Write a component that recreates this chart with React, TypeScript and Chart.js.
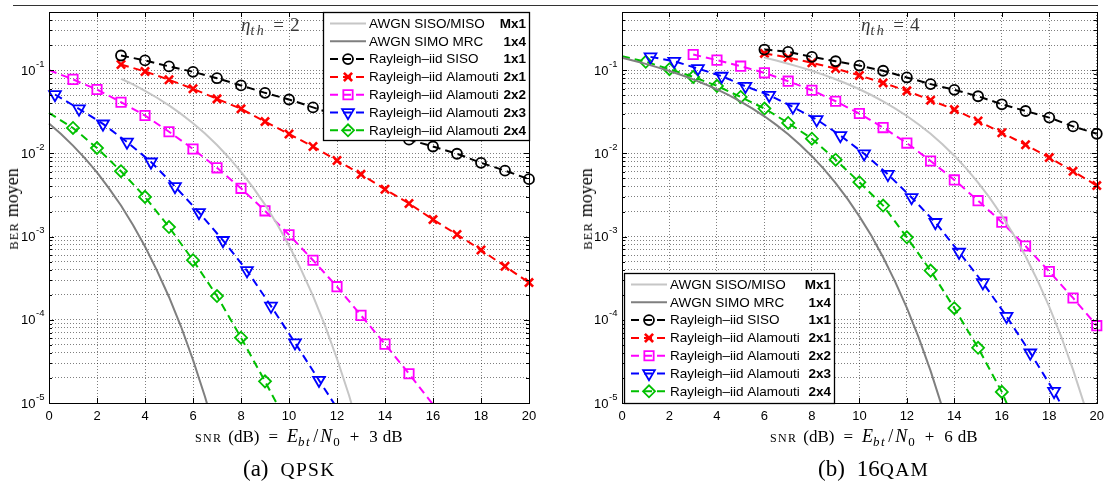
import React, { useEffect, useRef } from 'react';
import { Chart, registerables } from 'chart.js';
import { drawPoint } from 'chart.js/helpers';

Chart.register(...registerables);

const SANS = '"Liberation Sans", Arial, Helvetica, sans-serif';
const SERIF = '"Liberation Serif", "Times New Roman", serif';

// ---------- axes ----------
const X_TICKS = [0, 2, 4, 6, 8, 10, 12, 14, 16, 18, 20];
const X_TICK_LABELS = ['0', '2', '4', '6', '8', '10', '12', '14', '16', '18', '20'];
const Y_DECADES = [-5, -4, -3, -2, -1];
const Y_MIN = 1e-5;
const Y_MAX = 0.5;

// ---------- legend ----------
const LEGEND_NAMES = [
  'AWGN SISO/MISO',
  'AWGN SIMO MRC',
  'Rayleigh\u2013iid SISO',
  'Rayleigh\u2013iid Alamouti',
  'Rayleigh\u2013iid Alamouti',
  'Rayleigh\u2013iid Alamouti',
  'Rayleigh\u2013iid Alamouti',
];
const LEGEND_TAGS = ['Mx1', '1x4', '1x1', '2x1', '2x2', '2x3', '2x4'];

// ---------- (a) QPSK, eta_th = 2 ----------
const QPSK_AWGN_MX1_X = [3, 3.5, 4, 4.5, 5, 5.5, 6, 6.5, 7, 7.5, 8, 8.5, 9, 9.5, 10, 10.5, 11, 11.5, 12, 12.5, 13];
const QPSK_AWGN_MX1 = [0.0789, 0.0673, 0.0565, 0.0466, 0.0377, 0.0298, 0.023, 0.0173, 0.0126, 0.00887, 0.006, 0.0039, 0.00242, 0.00142, 0.00078, 0.000404, 0.000194, 8.5e-5, 3.4e-5, 1.24e-5, 4.0e-6];
const QPSK_AWGN_1X4_X = [0, 0.5, 1, 1.5, 2, 2.5, 3, 3.5, 4, 4.5, 5, 5.5, 6, 6.5, 7];
const QPSK_AWGN_1X4 = [0.0228, 0.0171, 0.0124, 0.0087, 0.0059, 0.0038, 0.00236, 0.00138, 0.00076, 0.00039, 0.000188, 8.3e-5, 3.3e-5, 1.19e-5, 3.8e-6];
const QPSK_SISO_X = [3, 4, 5, 6, 7, 8, 9, 10, 11, 12, 13, 14, 15, 16, 17, 18, 19, 20];
const QPSK_SISO = [0.15, 0.131, 0.111, 0.0955, 0.08, 0.0655, 0.0534, 0.0444, 0.0357, 0.0287, 0.0229, 0.0183, 0.0146, 0.0121, 0.0099, 0.0077, 0.0062, 0.0049];
const QPSK_ALA21_X = [3, 4, 5, 6, 7, 8, 9, 10, 11, 12, 13, 14, 15, 16, 17, 18, 19, 20];
const QPSK_ALA21 = [0.117, 0.0965, 0.0766, 0.0597, 0.0452, 0.0343, 0.0241, 0.0171, 0.0121, 0.0082, 0.0056, 0.0037, 0.0025, 0.0016, 0.00106, 0.00069, 0.00044, 0.00028];
const QPSK_ALA22_X = [0, 1, 2, 3, 4, 5, 6, 7, 8, 9, 10, 11, 12, 13, 14, 15, 16];
const QPSK_ALA22 = [0.1, 0.0775, 0.0585, 0.0412, 0.0285, 0.0182, 0.0113, 0.0067, 0.0038, 0.00204, 0.00105, 0.00052, 0.00025, 0.000113, 5.1e-5, 2.25e-5, 9.6e-6];
const QPSK_ALA23_X = [0.25, 1.25, 2.25, 3.25, 4.25, 5.25, 6.25, 7.25, 8.25, 9.25, 10.25, 11.25, 12.25];
const QPSK_ALA23 = [0.051, 0.0343, 0.0226, 0.0137, 0.0079, 0.004, 0.00195, 0.0009, 0.00039, 0.000146, 5.3e-5, 1.88e-5, 6.7e-6];
const QPSK_ALA24_X = [0, 1, 2, 3, 4, 5, 6, 7, 8, 9, 10];
const QPSK_ALA24 = [0.0306, 0.0202, 0.0116, 0.0061, 0.003, 0.0013, 0.00052, 0.000193, 6.1e-5, 1.82e-5, 5.2e-6];

// ---------- (b) 16QAM, eta_th = 4 ----------
const QAM_AWGN_MX1_X = [6, 6.5, 7, 7.5, 8, 8.5, 9, 9.5, 10, 10.5, 11, 11.5, 12, 12.5, 13, 13.5, 14, 14.5, 15, 15.5, 16, 16.5, 17, 17.5, 18, 18.5, 19, 19.5, 20];
const QAM_AWGN_MX1 = [0.1415, 0.1304, 0.1195, 0.1088, 0.0982, 0.0879, 0.0778, 0.0682, 0.059, 0.0503, 0.0422, 0.0348, 0.0281, 0.0222, 0.0172, 0.0129, 0.00937, 0.0066, 0.00446, 0.0029, 0.00179, 0.00105, 0.00058, 0.000299, 0.000143, 6.3e-5, 2.52e-5, 9.1e-6, 3.0e-6];
const QAM_AWGN_1X4_X = [0, 0.5, 1, 1.5, 2, 2.5, 3, 3.5, 4, 4.5, 5, 5.5, 6, 6.5, 7, 7.5, 8, 8.5, 9, 9.5, 10, 10.5, 11, 11.5, 12, 12.5, 13, 13.5, 14];
const QAM_AWGN_1X4 = [0.141, 0.13, 0.119, 0.108, 0.0977, 0.0874, 0.0775, 0.0678, 0.0586, 0.05, 0.0419, 0.0345, 0.0279, 0.022, 0.017, 0.0127, 0.00925, 0.0065, 0.00439, 0.00284, 0.00175, 0.00103, 0.000565, 0.00029, 0.000139, 6.1e-5, 2.43e-5, 8.7e-6, 2.8e-6];
const QAM_SISO_X = [6, 7, 8, 9, 10, 11, 12, 13, 14, 15, 16, 17, 18, 19, 20];
const QAM_SISO = [0.177, 0.166, 0.1445, 0.128, 0.1135, 0.0984, 0.0817, 0.068, 0.058, 0.0486, 0.0389, 0.0323, 0.0269, 0.0211, 0.0172];
const QAM_ALA21_X = [6, 7, 8, 9, 10, 11, 12, 13, 14, 15, 16, 17, 18, 19, 20];
const QAM_ALA21 = [0.159, 0.142, 0.1225, 0.1047, 0.0865, 0.0703, 0.0564, 0.0436, 0.0336, 0.0245, 0.0177, 0.0127, 0.0089, 0.0061, 0.0041];
const QAM_ALA22_X = [3, 4, 5, 6, 7, 8, 9, 10, 11, 12, 13, 14, 15, 16, 17, 18, 19, 20];
const QAM_ALA22 = [0.154, 0.132, 0.1117, 0.0929, 0.0737, 0.0574, 0.0423, 0.0301, 0.0204, 0.0133, 0.0081, 0.0048, 0.0027, 0.00149, 0.00077, 0.00038, 0.000183, 8.5e-5];
const QAM_ALA23_X = [1.2, 2.2, 3.2, 4.2, 5.2, 6.2, 7.2, 8.2, 9.2, 10.2, 11.2, 12.2, 13.2, 14.2, 15.2, 16.2, 17.2, 18.2, 19.2];
const QAM_ALA23 = [0.1445, 0.128, 0.1047, 0.0847, 0.0641, 0.05, 0.0361, 0.0255, 0.0164, 0.0099, 0.0056, 0.00295, 0.00148, 0.00065, 0.00028, 0.00011, 4.0e-5, 1.38e-5, 4.0e-6];
const QAM_ALA24_X = [0, 1, 2, 3, 4, 5, 6, 7, 8, 9, 10, 11, 12, 13, 14, 15, 16, 17];
const QAM_ALA24 = [0.147, 0.126, 0.1028, 0.083, 0.0647, 0.0476, 0.0346, 0.0232, 0.015, 0.0084, 0.0045, 0.00236, 0.00098, 0.00039, 0.000138, 4.6e-5, 1.36e-5, 2.9e-6];

// ---------- styles (one per legend entry) ----------
type Style = { color: string; width: number; dash: number[]; pointStyle?: string; radius?: number; bw?: number; rotation?: number };
const STYLES: Style[] = [
  { color: '#c6c6c6', width: 2, dash: [] },
  { color: '#7f7f7f', width: 2, dash: [] },
  { color: '#000000', width: 2, dash: [8, 5], pointStyle: 'circle', radius: 5, bw: 1.8 },
  { color: '#ff0000', width: 2, dash: [8, 5], pointStyle: 'crossRot', radius: 5.8, bw: 2.6 },
  { color: '#ff00ff', width: 2, dash: [8, 5], pointStyle: 'rect', radius: 6.6, bw: 1.8 },
  { color: '#0000ff', width: 2, dash: [8, 5], pointStyle: 'triangle', radius: 6.8, bw: 1.8, rotation: 180 },
  { color: '#00c000', width: 2, dash: [8, 5], pointStyle: 'rectRot', radius: 6, bw: 1.8 },
];

const Y_GRID: number[] = [];
for (const e of Y_DECADES) {
  for (let m = 1; m <= 9; m++) {
    const v = m * Math.pow(10, e);
    if (v <= Y_MAX * 1.0000001) Y_GRID.push(v);
  }
}

const isDecade = (v: number) => Math.abs(Math.log10(v) - Math.round(Math.log10(v))) < 1e-6;

const framePlugin = {
  id: 'frame',
  afterDatasetsDraw(chart: any, _args: any, opts: any) {
    const { ctx, chartArea: a, scales } = chart;
    const xs = scales.x;
    const ys = scales.y;
    ctx.save();
    ctx.setLineDash([]);
    // inward tick marks
    ctx.strokeStyle = '#000';
    ctx.lineWidth = 1;
    ctx.beginPath();
    xs.ticks.forEach((t: any) => {
      const px = Math.round(xs.getPixelForValue(t.value)) + 0.5;
      ctx.moveTo(px, a.bottom);
      ctx.lineTo(px, a.bottom - 5);
      ctx.moveTo(px, a.top);
      ctx.lineTo(px, a.top + 5);
    });
    ys.ticks.forEach((t: any) => {
      const py = Math.round(ys.getPixelForValue(t.value)) + 0.5;
      const L = isDecade(t.value) ? 5 : 3;
      ctx.moveTo(a.left, py);
      ctx.lineTo(a.left + L, py);
      ctx.moveTo(a.right, py);
      ctx.lineTo(a.right - L, py);
    });
    ctx.stroke();

    // legend
    const lg = opts.legend;
    const w = lg.w;
    const h = lg.h;
    const bx = lg.pos === 'ne' ? Math.round(a.right) - w : Math.round(a.left) + 2;
    const by = lg.pos === 'ne' ? Math.round(a.top) : Math.round(a.bottom) - h;
    ctx.fillStyle = '#fff';
    ctx.fillRect(bx, by, w, h);
    ctx.strokeStyle = '#000';
    ctx.lineWidth = 1.3;
    ctx.strokeRect(bx + 0.5, by + 0.5, w, h);
    chart.data.datasets.forEach((ds: any, i: number) => {
      const st = STYLES[i];
      const cy = by + 11.5 + i * 17.8;
      ctx.save();
      ctx.strokeStyle = st.color;
      ctx.lineWidth = st.width;
      ctx.setLineDash(st.dash);
      ctx.beginPath();
      ctx.moveTo(bx + 7, cy);
      ctx.lineTo(bx + 43, cy);
      ctx.stroke();
      ctx.restore();
      if (st.pointStyle) {
        ctx.save();
        ctx.setLineDash([]);
        ctx.strokeStyle = st.color;
        ctx.fillStyle = 'rgba(0,0,0,0)';
        ctx.lineWidth = st.bw;
        drawPoint(ctx, { pointStyle: st.pointStyle as any, radius: st.radius!, rotation: st.rotation || 0, borderWidth: st.bw! } as any, bx + 25, cy);
        ctx.restore();
      }
      ctx.fillStyle = '#000';
      ctx.textBaseline = 'middle';
      ctx.textAlign = 'left';
      ctx.font = `13.5px ${SANS}`;
      ctx.fillText(ds.label, bx + 46, cy + 0.5);
      ctx.textAlign = 'right';
      ctx.font = `bold 13.5px ${SANS}`;
      ctx.fillText(LEGEND_TAGS[i], bx + w - 3, cy + 0.5);
    });

    // frame
    ctx.strokeStyle = '#000';
    ctx.lineWidth = 1;
    ctx.strokeRect(Math.round(a.left) + 0.5, Math.round(a.top) + 0.5, Math.round(a.right - a.left), Math.round(a.bottom - a.top));

    // y tick labels 10^e
    ctx.fillStyle = '#000';
    Y_DECADES.forEach((e) => {
      const py = ys.getPixelForValue(Math.pow(10, e));
      ctx.textBaseline = 'middle';
      ctx.textAlign = 'right';
      ctx.font = `13px ${SANS}`;
      ctx.fillText('10', a.left - 13.5, py + 1);
      ctx.textAlign = 'left';
      ctx.font = `9.5px ${SANS}`;
      ctx.fillText('-' + String(-e), a.left - 13, py - 6);
    });
    ctx.restore();
  },
};

type SeriesData = { xs: number[]; ys: number[] };

function Panel(props: { left: number; width: number; yAxisWidth: number; padRight: number; series: SeriesData[]; legend: any }) {
  const ref = useRef<HTMLCanvasElement>(null);
  useEffect(() => {
    const gridOpts = { color: 'rgba(0,0,0,0.5)', lineWidth: 1, drawTicks: false };
    const chart = new Chart(ref.current as HTMLCanvasElement, {
      type: 'line',
      data: {
        datasets: props.series.map((s, i) => {
          const st = STYLES[i];
          return {
            label: LEGEND_NAMES[i],
            data: s.xs.map((x, k) => ({ x, y: s.ys[k] })),
            borderColor: st.color,
            borderWidth: st.width,
            borderDash: st.dash,
            tension: 0,
            fill: false,
            pointStyle: (st.pointStyle || 'circle') as any,
            pointRadius: (c: any) => {
              const r = c.raw;
              if (!st.pointStyle || !r || r.x <= 0 || r.y < Y_MIN) return 0;
              return st.radius;
            },
            pointHoverRadius: 0,
            pointBackgroundColor: 'rgba(0,0,0,0)',
            pointBorderColor: st.color,
            pointBorderWidth: st.bw || 0,
            pointRotation: st.rotation || 0,
            clip: { left: 14, right: 14, top: 14, bottom: 0 } as any,
          } as any;
        }),
      },
      options: {
        animation: false,
        responsive: false,
        maintainAspectRatio: false,
        events: [],
        layout: { padding: { left: 0, right: props.padRight, top: 12, bottom: 0 } },
        plugins: {
          legend: { display: false },
          tooltip: { enabled: false },
          frame: { legend: props.legend },
        } as any,
        scales: {
          x: {
            type: 'linear',
            min: 0,
            max: 20,
            afterBuildTicks: (s: any) => {
              s.ticks = X_TICKS.map((v) => ({ value: v }));
            },
            afterFit: (s: any) => {
              s.height = 81;
            },
            grid: gridOpts,
            border: { display: false, dash: [1, 2] },
            ticks: {
              color: '#000',
              font: { family: SANS, size: 13 },
              padding: 6,
              maxRotation: 0,
              autoSkip: false,
              callback: (v: any) => X_TICK_LABELS[X_TICKS.indexOf(Number(v))] ?? '',
            },
          },
          y: {
            type: 'logarithmic',
            min: Y_MIN,
            max: Y_MAX,
            afterBuildTicks: (s: any) => {
              s.ticks = Y_GRID.map((v) => ({ value: v }));
            },
            afterFit: (s: any) => {
              s.width = props.yAxisWidth;
            },
            grid: gridOpts,
            border: { display: false, dash: [1, 2] },
            ticks: { display: false },
          },
        } as any,
      },
      plugins: [framePlugin as any],
    });
    return () => chart.destroy();
  }, []);
  return (
    <canvas
      ref={ref}
      width={props.width}
      height={484}
      style={{ position: 'absolute', left: props.left, top: 0, width: props.width, height: 484 }}
    />
  );
}

const QPSK_SERIES: SeriesData[] = [
  { xs: QPSK_AWGN_MX1_X, ys: QPSK_AWGN_MX1 },
  { xs: QPSK_AWGN_1X4_X, ys: QPSK_AWGN_1X4 },
  { xs: QPSK_SISO_X, ys: QPSK_SISO },
  { xs: QPSK_ALA21_X, ys: QPSK_ALA21 },
  { xs: QPSK_ALA22_X, ys: QPSK_ALA22 },
  { xs: QPSK_ALA23_X, ys: QPSK_ALA23 },
  { xs: QPSK_ALA24_X, ys: QPSK_ALA24 },
];
const QAM_SERIES: SeriesData[] = [
  { xs: QAM_AWGN_MX1_X, ys: QAM_AWGN_MX1 },
  { xs: QAM_AWGN_1X4_X, ys: QAM_AWGN_1X4 },
  { xs: QAM_SISO_X, ys: QAM_SISO },
  { xs: QAM_ALA21_X, ys: QAM_ALA21 },
  { xs: QAM_ALA22_X, ys: QAM_ALA22 },
  { xs: QAM_ALA23_X, ys: QAM_ALA23 },
  { xs: QAM_ALA24_X, ys: QAM_ALA24 },
];

const abs = (extra: React.CSSProperties): React.CSSProperties => ({ position: 'absolute', whiteSpace: 'nowrap', ...extra });
const SC = (size: number, spacing: number): React.CSSProperties => ({ fontSize: size, letterSpacing: spacing });

function XTitle({ left, db }: { left: number; db: string }) {
  return (
    <div style={abs({ left, top: 427, font: `17px ${SERIF}`, color: '#000', lineHeight: '18px' })}>
      <span style={SC(12, 1.3)}>SNR</span>
      <span style={{ marginLeft: 6 }}>(dB)</span>
      <span style={{ margin: '0 9px' }}>=</span>
      <i style={{ fontSize: 18 }}>E</i>
      <sub style={{ fontSize: 13, fontStyle: 'italic', letterSpacing: 1.5, verticalAlign: -4 }}>bt</sub>
      <span style={{ margin: '0 2px', fontSize: 18 }}>/</span>
      <i style={{ fontSize: 18, letterSpacing: 1 }}>N</i>
      <sub style={{ fontSize: 13, verticalAlign: -4 }}>0</sub>
      <span style={{ margin: '0 10px' }}>+</span>
      {db}
      <span style={{ marginLeft: 5 }}>dB</span>
    </div>
  );
}

function YTitle({ cx }: { cx: number }) {
  return (
    <div style={abs({ left: cx, top: 209, transform: 'translate(-50%, -50%) rotate(-90deg)', font: `18px ${SERIF}`, color: '#000', lineHeight: '18px' })}>
      <span style={SC(12.5, 1.2)}>BER</span> moyen
    </div>
  );
}

function Eta({ left, n }: { left: number; n: string }) {
  return (
    <div style={abs({ left, top: 15, font: `19px ${SERIF}`, color: '#3a3a3a', lineHeight: '20px' })}>
      <i>η</i>
      <sub style={{ fontSize: 14, fontStyle: 'italic', letterSpacing: 2.5, verticalAlign: -4 }}>th</sub>
      <span style={{ margin: '0 6px 0 7px' }}>=</span>
      {n}
    </div>
  );
}

function Caption({ left, pre, mid, sc }: { left: number; pre: string; mid: string; sc: string }) {
  return (
    <div style={abs({ left, top: 456, font: `23px ${SERIF}`, color: '#000', lineHeight: '26px' })}>
      {pre}
      <span style={{ marginLeft: 12 }}>{mid}</span>
      <span style={SC(19.5, 1.3)}>{sc}</span>
    </div>
  );
}

export default function App() {
  return (
    <div style={{ position: 'absolute', left: 0, top: 0, width: 1110, height: 484, background: '#fff', overflow: 'hidden' }}>
      <div style={{ position: 'absolute', left: 13, top: 5, width: 1085, height: 0, borderTop: '1.5px solid #333' }} />
      <Panel left={0} width={560} yAxisWidth={49} padRight={31} series={QPSK_SERIES} legend={{ pos: 'ne', w: 206, h: 128 }} />
      <Panel left={560} width={550} yAxisWidth={62} padRight={8} series={QAM_SERIES} legend={{ pos: 'sw', w: 210, h: 130 }} />
      <Eta left={241} n="2" />
      <Eta left={861} n="4" />
      <XTitle left={195} db="3" />
      <XTitle left={770} db="6" />
      <YTitle cx={13} />
      <YTitle cx={587} />
      <Caption left={243} pre="(a)" mid="" sc="QPSK" />
      <Caption left={818} pre="(b)" mid="16" sc="QAM" />
    </div>
  );
}
